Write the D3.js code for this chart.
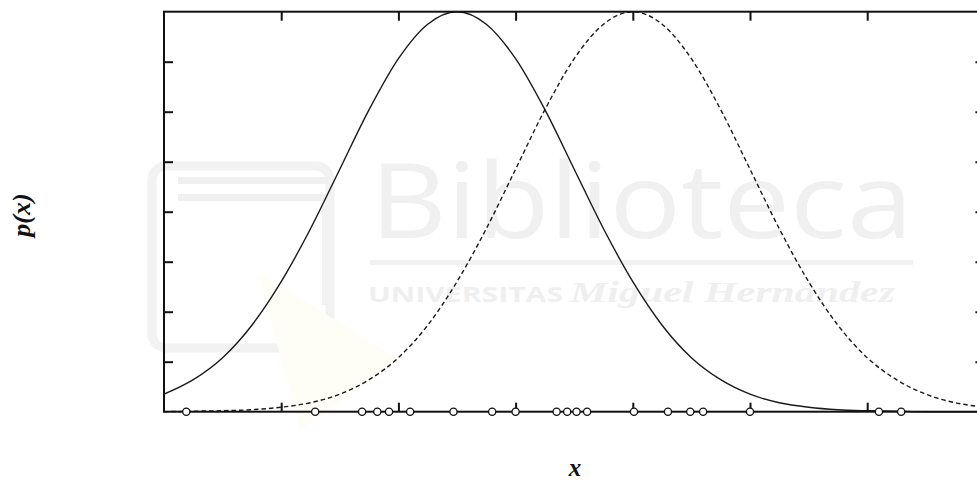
<!DOCTYPE html>
<html>
<head>
<meta charset="utf-8">
<script src="https://cdn.jsdelivr.net/npm/d3@7"></script>
<style>
  html, body { margin: 0; padding: 0; background: #ffffff; }
  svg { display: block; }
</style>
</head>
<body>
<svg id="chart" width="977" height="482"></svg>
<script>
// ---- data ----
const xGrid = [0, 0.25, 0.5, 0.75, 1, 1.25, 1.5, 1.75, 2, 2.25, 2.5, 2.75, 3, 3.25, 3.5,
               3.75, 4, 4.25, 4.5, 4.75, 5, 5.25, 5.5, 5.75, 6, 6.25, 6.5, 6.75, 7];
const solidDensity = [0.35, 0.64, 1.08, 1.73, 2.60, 3.66, 4.85, 6.04, 7.06, 7.75, 8.00, 7.75, 7.06, 6.04, 4.85,
                      3.66, 2.60, 1.73, 1.08, 0.64, 0.35, 0.18, 0.09, 0.04, 0.02, 0.01, 0.00, 0.00, 0.00];
const dashedDensity = [0.00, 0.01, 0.02, 0.04, 0.09, 0.18, 0.35, 0.64, 1.08, 1.73, 2.60, 3.66, 4.85, 6.04, 7.06,
                       7.75, 8.00, 7.75, 7.06, 6.04, 4.85, 3.66, 2.60, 1.73, 1.08, 0.64, 0.35, 0.18, 0.09];
const samplePoints = [0.19, 1.29, 1.69, 1.82, 1.92, 2.10, 2.47, 2.80, 3.00, 3.35,
                      3.44, 3.52, 3.61, 4.01, 4.30, 4.49, 4.60, 5.00, 6.10, 6.29];
const xTickValues = [1, 2, 3, 4, 5, 6];
const yTickValues = [1, 2, 3, 4, 5, 6, 7];
const xDomain = [0, 7];
const yDomain = [0, 8];
const xLabel = "x";
const yLabel = "p(x)";

(function () {
// ---- layout ----
const svg = d3.select("#chart");
const padLeft = 164, padTop = 11.7, plotW = 820.4, plotH = 400;

const x = d3.scaleLinear().domain(xDomain).range([padLeft, padLeft + plotW]);
const y = d3.scaleLinear().domain(yDomain).range([padTop + plotH, padTop]);

// ---- faint watermark (scan background) ----
const wm = svg.append("g").attr("class", "watermark");
wm.append("rect").attr("x", 152).attr("y", 166).attr("width", 178).attr("height", 182)
  .attr("rx", 14).attr("fill", "none").attr("stroke", "#f2f2f2").attr("stroke-width", 9);
wm.append("rect").attr("x", 178).attr("y", 177).attr("width", 150).attr("height", 7).attr("fill", "#f0f0f0");
wm.append("rect").attr("x", 178).attr("y", 194).attr("width", 150).attr("height", 7).attr("fill", "#f0f0f0");
wm.append("rect").attr("x", 322).attr("y", 205).attr("width", 8).attr("height", 100).attr("fill", "#f2f2f2");
wm.append("path").attr("d", "M258,272 L400,360 L300,430 Z").attr("fill", "#fefdf6");
wm.append("text").attr("x", 370).attr("y", 238)
  .attr("font-family", "'Open Sans', Lato, sans-serif").attr("font-weight", 400)
  .attr("font-size", 104).attr("fill", "#f0f0f0")
  .attr("textLength", 543).attr("lengthAdjust", "spacingAndGlyphs")
  .text("Biblioteca");
wm.append("rect").attr("x", 370).attr("y", 260).attr("width", 543).attr("height", 5).attr("fill", "#f1f1f1");
wm.append("text").attr("x", 368).attr("y", 302)
  .attr("font-family", "'Open Sans', sans-serif").attr("font-weight", 700)
  .attr("font-size", 21).attr("fill", "#efefef")
  .attr("textLength", 195).attr("lengthAdjust", "spacingAndGlyphs")
  .text("UNIVERSITAS");
wm.append("text").attr("x", 570).attr("y", 302)
  .attr("font-family", "'Liberation Serif', serif").attr("font-style", "italic").attr("font-weight", 700)
  .attr("font-size", 29).attr("fill", "#efefef")
  .attr("textLength", 325).attr("lengthAdjust", "spacingAndGlyphs")
  .text("Miguel Hernández");

// ---- curves ----
const pts = (vals) => xGrid.map((v, i) => [v, vals[i]]);
const line = d3.line().x(d => x(d[0])).y(d => y(d[1])).curve(d3.curveMonotoneX);

svg.append("path").datum(pts(solidDensity))
  .attr("d", line).attr("fill", "none").attr("stroke", "#1a1a1a").attr("stroke-width", 1.4);
svg.append("path").datum(pts(dashedDensity))
  .attr("d", line).attr("fill", "none").attr("stroke", "#1a1a1a").attr("stroke-width", 1.4)
  .attr("stroke-dasharray", "4.5,3");

// ---- frame and inward ticks ----
const frame = svg.append("g").attr("stroke", "#111").attr("fill", "none");
frame.append("rect").attr("x", padLeft).attr("y", padTop).attr("width", plotW).attr("height", plotH)
  .attr("stroke-width", 2);

const tickLen = 9;
const axBottom = d3.axisBottom(x).tickValues(xTickValues).tickSize(-tickLen).tickFormat("");
const axTop = d3.axisTop(x).tickValues(xTickValues).tickSize(-tickLen).tickFormat("");
const axLeft = d3.axisLeft(y).tickValues(yTickValues).tickSize(-tickLen).tickFormat("");
const axRight = d3.axisRight(y).tickValues(yTickValues).tickSize(-tickLen).tickFormat("");

function styleAxis(g) {
  g.select(".domain").remove();
  g.selectAll(".tick line").attr("stroke", "#111").attr("stroke-width", 2);
}
svg.append("g").attr("transform", `translate(0,${padTop + plotH})`).call(axBottom).call(styleAxis);
svg.append("g").attr("transform", `translate(0,${padTop})`).call(axTop).call(styleAxis);
svg.append("g").attr("transform", `translate(${padLeft},0)`).call(axLeft).call(styleAxis);
svg.append("g").attr("transform", `translate(${padLeft + plotW},0)`).call(axRight).call(styleAxis);

// ---- sample points on the axis ----
svg.append("g").selectAll("circle").data(samplePoints).join("circle")
  .attr("cx", d => x(d)).attr("cy", y(0)).attr("r", 3.6)
  .attr("fill", "#fff").attr("stroke", "#111").attr("stroke-width", 1.3);

// ---- axis labels ----
svg.append("text")
  .attr("transform", `translate(30,215) rotate(-90)`)
  .attr("text-anchor", "middle")
  .attr("font-family", "'Liberation Serif', 'DejaVu Serif', serif")
  .attr("font-style", "italic").attr("font-weight", 700)
  .attr("font-size", 26).attr("fill", "#111")
  .text(yLabel);
svg.append("text")
  .attr("x", 575).attr("y", 476)
  .attr("text-anchor", "middle")
  .attr("font-family", "'Liberation Serif', 'DejaVu Serif', serif")
  .attr("font-style", "italic").attr("font-weight", 700)
  .attr("font-size", 25).attr("fill", "#111")
  .text(xLabel);
})();
</script>
</body>
</html>
